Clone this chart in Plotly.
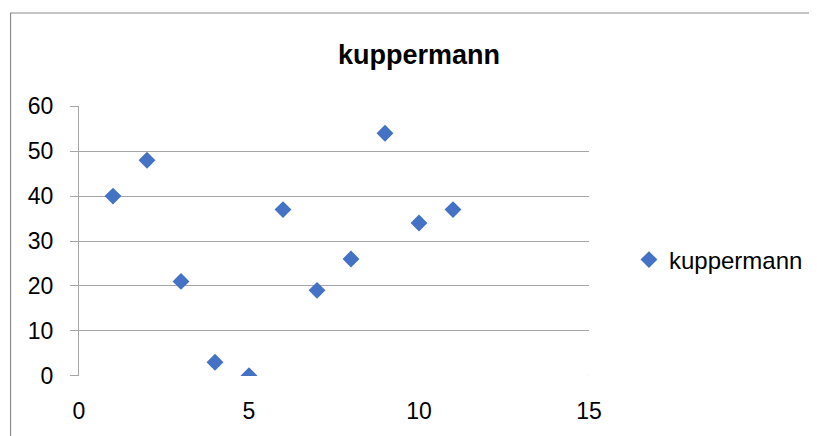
import plotly.graph_objects as go

x_vals = [1, 2, 3, 4, 5, 6, 7, 8, 9, 10, 11]
y_vals = [40, 48, 21, 3, 0, 37, 19, 26, 54, 34, 37]
series_name = "kuppermann"
title_text = "kuppermann"

OFF = 8  # page body offset
W, H = 817 - OFF, 436 - OFF
# plot area in screen px
SX0, SX1, SY0, SY1 = 78.5, 589, 106, 376
L, R, T, B = SX0 - OFF, 817 - SX1, SY0 - OFF, 436 - SY1
pw = SX1 - SX0
ph = SY1 - SY0

FONT = "Liberation Sans"
GRID = "#a6a6a6"

fig = go.Figure()
fig.add_trace(go.Scatter(
    x=x_vals, y=y_vals, mode="markers", name=series_name,
    marker=dict(symbol="diamond", size=13, color="#4472C4"),
    showlegend=True,
))

shapes = [
    dict(type="rect", xref="paper", yref="paper",
         x0=(10 - SX0) / pw, x1=(830 - SX0) / pw,
         y0=-(450 - SY1) / ph, y1=(SY1 - 13) / ph,
         line=dict(color="#8c8c8c", width=1.2), fillcolor="rgba(0,0,0,0)", layer="below"),
]
for xv in [0, 15]:
    shapes.append(dict(type="line", xref="x", yref="y", ysizemode="pixel", yanchor=0,
                       x0=xv, x1=xv, y0=0, y1=-8, line=dict(color=GRID, width=1.2)))

fig.update_layout(
    width=W, height=H,
    margin=dict(l=L, r=R, t=T, b=B, pad=0, autoexpand=False),
    paper_bgcolor="white", plot_bgcolor="white",
    font=dict(family=FONT, size=23, color="#000000"),
    title=dict(text="<b>" + title_text + "</b>", x=(419 - OFF) / W, xanchor="center",
               y=1 - (55 - OFF) / H, yanchor="middle", font=dict(size=27, family=FONT)),
    xaxis=dict(range=[0, 15], tickvals=[0, 5, 10, 15], showgrid=False, zeroline=False,
               showline=False, ticks="", ticklabelstandoff=19,
               tickfont=dict(size=23)),
    yaxis=dict(range=[-0.08, 60.08], tickvals=[0, 10, 20, 30, 40, 50, 60], showgrid=True,
               gridcolor=GRID, gridwidth=1.2, zeroline=False,
               showline=True, linecolor=GRID, linewidth=1.2,
               ticks="outside", ticklen=8, tickcolor=GRID, tickwidth=1.2,
               ticklabelstandoff=12, tickfont=dict(size=23)),
    legend=dict(x=(629 - SX0) / pw, xanchor="left", y=(SY1 - 260) / ph, yanchor="middle",
                font=dict(size=24), bgcolor="rgba(0,0,0,0)", itemwidth=30),
    shapes=shapes,
)

fig.write_html("out.html")
